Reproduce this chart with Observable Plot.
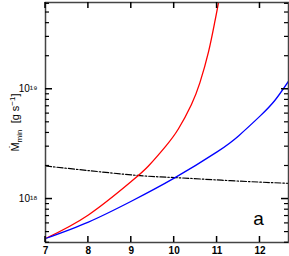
<!DOCTYPE html>
<html>
<head>
<meta charset="utf-8">
<script src="https://cdn.jsdelivr.net/npm/d3@7"></script>
<script src="https://cdn.jsdelivr.net/npm/@observablehq/plot@0.6"></script>
<style>
  html, body { margin: 0; padding: 0; background: white; }
</style>
</head>
<body>
<div id="chart"></div>
<script>
// Red curve
const redX = [7, 8, 9, 9.4, 9.8, 10.1, 10.4, 10.6, 10.8, 10.95, 11.06, 11.15];
const redY = [4.37e17, 7.16e17, 1.445e18, 2.0e18, 3.02e18, 4.37e18, 7.24e18, 1.15e19, 2.19e19, 4.17e19, 7.08e19, 1.26e20];
// Blue curve
const blueX = [7, 8, 9, 10, 11, 11.5, 12, 12.35, 12.67];
const blueY = [4.37e17, 6.17e17, 9.55e17, 1.55e18, 2.69e18, 3.76e18, 5.69e18, 7.94e18, 1.19e19];
// Dash-dot curve
const dashX = [7, 9, 10, 11.31, 12.67];
const dashY = [2.0e18, 1.66e18, 1.57e18, 1.47e18, 1.39e18];

const xTicks = [7, 8, 9, 10, 11, 12];
const yMajor = [1e18, 1e19];
const yMajorLabels = ["10¹⁸", "10¹⁹"];
const yMinor = [4e17, 5e17, 6e17, 7e17, 8e17, 9e17, 2e18, 3e18, 4e18, 5e18, 6e18, 7e18, 8e18, 9e18, 2e19, 3e19, 4e19, 5e19, 6e19];
const panelLabel = "a";

const W = 289, H = 256, ML = 45, MR = 1, MT = 2, MB = 14;

const toRows = (xs, ys) => xs.map((x, i) => ({x, y: ys[i]}));

const chart = Plot.plot({
  width: W,
  height: H,
  marginLeft: ML,
  marginRight: MR,
  marginTop: MT,
  marginBottom: MB,
  x: {domain: [7, 12.665], label: null},
  y: {type: "log", domain: [4.02e17, 6.17e19], label: null},
  style: {fontFamily: "Liberation Sans, Arial, sans-serif", background: "white", color: "black"},
  marks: [
    Plot.line(toRows(dashX, dashY), {x: "x", y: "y", stroke: "black", strokeWidth: 1.2, strokeDasharray: "6,2,1.5,2", curve: "natural", clip: true}),
    Plot.line(toRows(redX, redY), {x: "x", y: "y", stroke: "#ff0000", strokeWidth: 1.3, curve: "natural", clip: true}),
    Plot.line(toRows(blueX, blueY), {x: "x", y: "y", stroke: "#0000ff", strokeWidth: 1.3, curve: "natural", clip: true}),
    Plot.axisX({anchor: "bottom", ticks: xTicks, tickSize: 0, tickPadding: 4, label: null, fontSize: 10, fontWeight: "bold", tickFormat: d => String(d)}),
    Plot.axisY({anchor: "left", ticks: yMajor, tickSize: 0, tickPadding: 8, label: null, fontSize: 10,
      tickFormat: d => yMajorLabels[yMajor.indexOf(d)]}),
    Plot.frame({stroke: "#444", strokeWidth: 1.5}),
    Plot.text([panelLabel], {frameAnchor: "bottom-right", dx: -30, dy: -24, text: d => d, fontSize: 19, textAnchor: "middle", lineAnchor: "middle"}),
    Plot.text(["ylab"], {frameAnchor: "left", dx: -30, rotate: -90, text: d => d, fontSize: 11, textAnchor: "middle", lineAnchor: "middle", className: "ylab"})
  ]
});

document.getElementById("chart").appendChild(chart);

// inward ticks on all four sides, positioned through Plot's own scales
const sx = chart.scale("x"), sy = chart.scale("y");
const fTop = MT, fBottom = H - MB, fLeft = ML, fRight = W - MR;
const tg = d3.select(chart).append("g").attr("stroke", "black").attr("fill", "none");
for (const v of xTicks) {
  const px = sx.apply(v);
  tg.append("line").attr("x1", px).attr("x2", px).attr("y1", fBottom).attr("y2", fBottom - 6).attr("stroke-width", 1.5);
  tg.append("line").attr("x1", px).attr("x2", px).attr("y1", fTop).attr("y2", fTop + 6).attr("stroke-width", 1.5);
}
for (const [vals, len, sw] of [[yMajor, 7, 1.5], [yMinor, 4, 1.2]]) {
  for (const v of vals) {
    const py = sy.apply(v);
    tg.append("line").attr("x1", fLeft).attr("x2", fLeft + len).attr("y1", py).attr("y2", py).attr("stroke-width", sw);
    tg.append("line").attr("x1", fRight).attr("x2", fRight - len).attr("y1", py).attr("y2", py).attr("stroke-width", sw);
  }
}

const lab = chart.querySelector(".ylab text");
if (lab) {
  lab.innerHTML = 'Ṁ<tspan dy="3" font-size="8">min</tspan><tspan dy="-3">  [g s</tspan><tspan dy="-4" font-size="8">−1</tspan><tspan dy="4">]</tspan>';
  lab.setAttribute("xml:space", "preserve");
}
</script>
</body>
</html>
